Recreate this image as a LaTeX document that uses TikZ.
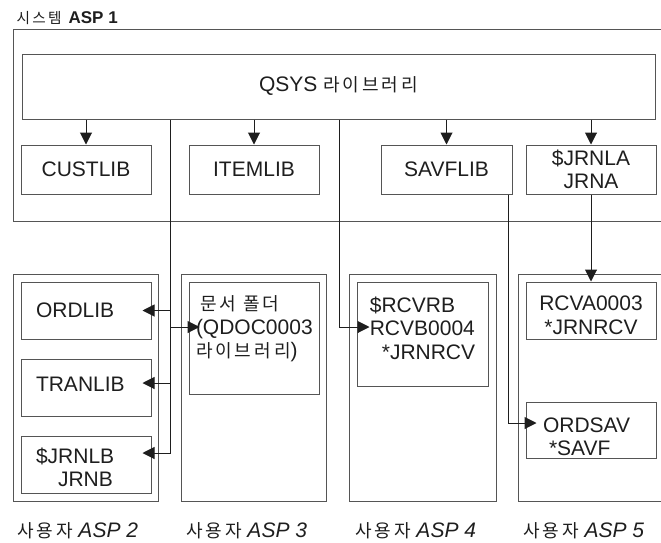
\documentclass[tikz,border=0pt]{standalone}
\usepackage{fontspec}
\setmainfont{Liberation Sans}
\newfontfamily\kr[Scale=0.86,LetterSpace=16]{Noto Sans CJK KR}
\usepackage{tikz}
\usetikzlibrary{arrows.meta}
\definecolor{boxline}{RGB}{85,85,85}
\definecolor{ink}{RGB}{30,30,30}

\begin{document}
\begin{tikzpicture}[x=1pt, y=-1pt,
    aspbox/.style={rectangle, draw=boxline, line width=1pt, inner sep=0pt},
    libbox/.style={rectangle, draw=boxline, line width=1pt, minimum width=130pt,
                   minimum height=57pt, inner sep=0pt, align=center, text=ink,
                   font=\fontsize{21}{23.5}\selectfont},
    asplabel/.style={anchor=base west, text=ink, font=\fontsize{21}{24}\selectfont},
    line/.style={line width=1pt, draw=ink},
    arrow/.style={line width=1pt, draw=ink, -{Triangle[length=12pt,width=12pt]}}]

\useasboundingbox (0,0) rectangle (661,542);

% system ASP 1 (right side runs off the page)
\node (asp1) [aspbox, minimum width=660pt, minimum height=192pt] at (343,125) {};
\node (asp1lbl) [anchor=base west, text=ink, font=\fontsize{17}{20}\selectfont]
    at (13,23) {{\kr 시스템} \textbf{ASP 1}};

\node (qsys) [libbox, minimum width=633pt, minimum height=65pt] at (338.5,86.5) {QSYS {\kr 라이브러리}};
\node (custlib) [libbox, minimum height=49pt] at (86,169.5)    {CUSTLIB};
\node (itemlib) [libbox, minimum height=49pt] at (254,169.5)   {ITEMLIB};
\node (savflib) [libbox, minimum width=131pt, minimum height=49pt] at (446.5,169.5) {SAVFLIB};
\node (jrnla)   [libbox, minimum height=49pt] at (591,169.5)   {\$JRNLA\\JRNA};

% user ASPs
\node (asp2) [aspbox, minimum width=145pt, minimum height=227pt] at (85.5,387.5) {};
\node (asp3) [aspbox, minimum width=145pt, minimum height=227pt] at (253.5,387.5) {};
\node (asp4) [aspbox, minimum width=147pt, minimum height=227pt] at (422.5,387.5) {};
\node (asp5) [aspbox, minimum width=160pt, minimum height=227pt] at (598,387.5) {};

\node (asp2lbl) [asplabel] at ([xshift=1pt,yshift=-36pt]asp2.south west) {{\kr 사용자} \textit{ASP 2}};
\node (asp3lbl) [asplabel] at ([xshift=2pt,yshift=-36pt]asp3.south west) {{\kr 사용자} \textit{ASP 3}};
\node (asp4lbl) [asplabel] at ([xshift=3pt,yshift=-36pt]asp4.south west) {{\kr 사용자} \textit{ASP 4}};
\node (asp5lbl) [asplabel] at ([xshift=2pt,yshift=-36pt]asp5.south west) {{\kr 사용자} \textit{ASP 5}};

\node (ordlib)  [libbox, align=left, text width=100pt, inner xsep=15pt] at (86,310.5) {ORDLIB};
\node (tranlib) [libbox, align=left, text width=100pt, inner xsep=15pt] at (86,387.5)
    {TRANLIB\rule[-6pt]{0pt}{6pt}};
\node (jrnlb)   [libbox, align=left, text width=100pt, inner xsep=15pt] at (86,464.5)
    {\rule{0pt}{21pt}\$JRNLB\\\hspace*{22pt}JRNB};

\node (qdoc) [libbox, align=left, text width=116pt, inner xsep=7pt, minimum height=112pt] at (254,338)
    {\hspace*{4pt}{\kr 문서 폴더}\\(QDOC0003\\{\kr 라이브러리})\rule[-22pt]{0pt}{22pt}};

\node (rcvb) [libbox, align=left, minimum width=131pt, minimum height=104pt] at (422.5,334)
    {\$RCVRB\\RCVB0004\\\hspace*{12pt}*JRNRCV\rule[-12pt]{0pt}{12pt}};

\node (rcva)   [libbox] at (591,310.5) {\rule{0pt}{24pt}RCVA0003\\*JRNRCV};
\node (ordsav) [libbox, align=left, text width=96pt, inner xsep=17pt, minimum height=56pt] at (591,430)
    {\rule{0pt}{28pt}ORDSAV\\\hspace*{6pt}*SAVF};

% arrow ends sit a little inside the boxes
\coordinate (busa) at (170,0);
\coordinate (busb) at (339,0);
\coordinate (ordin)   at ([xshift=-9pt]ordlib.east);
\coordinate (tranin)  at ([xshift=-9pt,yshift=4.5pt]tranlib.east);
\coordinate (jrnlbin) at ([xshift=-9pt,yshift=11.5pt]jrnlb.east);
\coordinate (qdocin)  at ([xshift=11pt,yshift=11pt]qdoc.west);
\coordinate (rcvbin)  at ([xshift=13pt,yshift=7pt]rcvb.west);
\coordinate (savin)   at ([xshift=11pt,yshift=7pt]ordsav.west);

\draw [arrow] (qsys.south -| custlib.north) -- (custlib.north);
\draw [arrow] (qsys.south -| itemlib.north) -- (itemlib.north);
\draw [arrow] (qsys.south -| savflib.north) -- (savflib.north);
\draw [arrow] (qsys.south -| jrnla.north) -- (jrnla.north);

\draw [arrow] (qsys.south -| busa) |- (jrnlbin);
\draw [arrow] (busa |- ordin) -- (ordin);
\draw [arrow] (busa |- tranin) -- (tranin);
\draw [arrow] (busa |- qdocin) -- (qdocin);
\draw [arrow] (qsys.south -| busb) |- (rcvbin);
\draw [arrow] ([xshift=-4pt]savflib.south east) |- (savin);
\draw [arrow] (jrnla.south) -- (rcva.north);
\end{tikzpicture}
\end{document}
